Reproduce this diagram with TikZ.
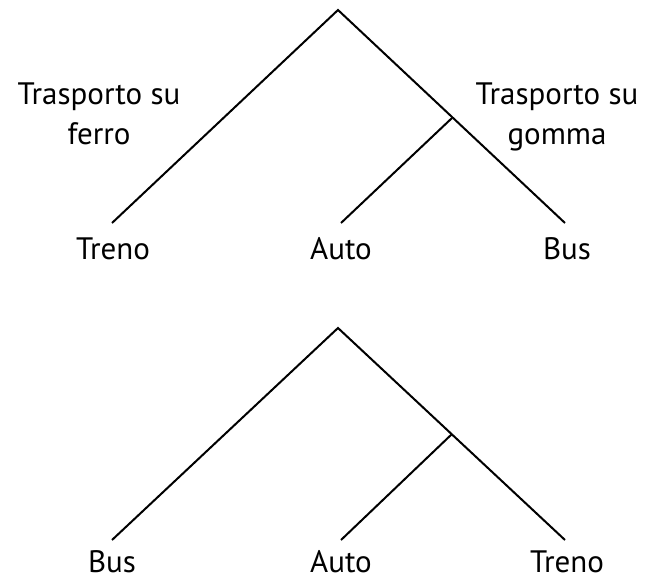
\documentclass[tikz,border=0pt]{standalone}
\usepackage{fontspec}
\setmainfont{PT Sans}
\begin{document}
\begin{tikzpicture}[x=1pt,y=-1pt,
  branch/.style={line width=2pt},
  leaflabel/.style={anchor=base,inner sep=0pt,font=\fontsize{31}{37}\selectfont},
  grouplabel/.style={anchor=north,inner sep=0pt,align=center,font=\fontsize{31}{40}\selectfont}]
\useasboundingbox (0,0) rectangle (646,581);
% first tree
\coordinate (a1) at (338,10);
\coordinate (m1) at (452,118);
\coordinate (l1) at (112,223);
\coordinate (c1) at (341,223);
\coordinate (r1) at (565,223);
\draw[branch] (l1) -- (a1) -- (r1);
\draw[branch] (m1) -- (c1);
\node[leaflabel] (t1) at (113,259) {Treno};
\node[leaflabel] (u1) at (341,259) {Auto};
\node[leaflabel] (b1) at (567,259) {Bus};
\node[grouplabel] (g1) at (99,83) {Trasporto su\\ferro};
\node[grouplabel] (g2) at (557,83) {Trasporto su\\gomma};
% second tree
\coordinate (a2) at (338,328);
\coordinate (m2) at (452,434);
\coordinate (l2) at (112,540);
\coordinate (c2) at (341,540);
\coordinate (r2) at (565,540);
\draw[branch] (l2) -- (a2) -- (r2);
\draw[branch] (m2) -- (c2);
\node[leaflabel] (b2) at (112,572) {Bus};
\node[leaflabel] (u2) at (341,572) {Auto};
\node[leaflabel] (t2) at (567,572) {Treno};
\end{tikzpicture}
\end{document}
